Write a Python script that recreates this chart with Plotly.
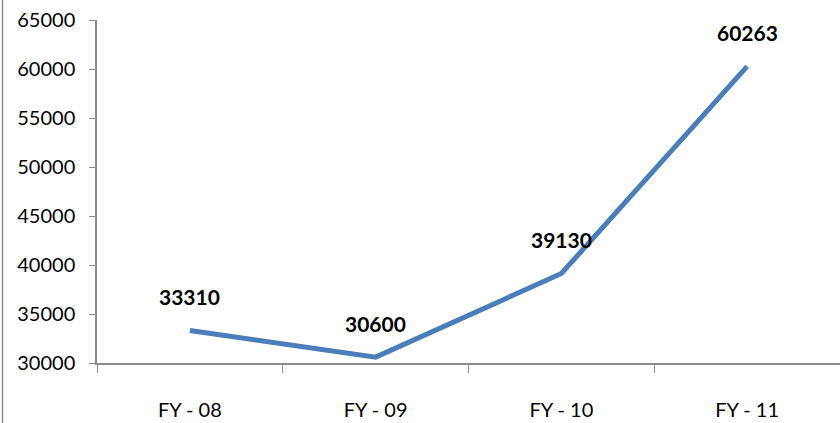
import plotly.graph_objects as go

# Annual figures by fiscal year
years = ["FY - 08", "FY - 09", "FY - 10", "FY - 11"]
values = [33310, 30600, 39130, 60263]
y_ticks = [30000, 35000, 40000, 45000, 50000, 55000, 60000, 65000]
y_tick_labels = [str(t) for t in y_ticks]

LINE_COLOR = "#4A7EBB"
AXIS_COLOR = "#8C8C8C"
FONT = "Lato, Carlito, 'Liberation Sans', sans-serif"

fig = go.Figure()
fig.add_trace(go.Scatter(
    x=years, y=values, mode="lines",
    line=dict(color=LINE_COLOR, width=5),
    hoverinfo="skip", showlegend=False,
))

# Bold value labels above each point
for cat, v in zip(years, values):
    fig.add_annotation(
        x=cat, y=v, text=f"<b>{v}</b>", showarrow=False,
        yshift=34, font=dict(family=FONT, size=21, color="#000000"),
    )

W, H = 840, 423
ml, mr, mt, mb = 97, 0, 20, 60
pw, ph = W - ml - mr, H - mt - mb

# thin frame line along the left edge
fig.add_shape(
    type="line", xref="paper", yref="paper",
    x0=-(ml - 2.5) / pw, x1=-(ml - 2.5) / pw,
    y0=-mb / ph, y1=1 + mt / ph,
    line=dict(color=AXIS_COLOR, width=1.5),
)

fig.update_layout(
    width=W, height=H,
    margin=dict(l=ml, r=mr, t=mt, b=mb),
    paper_bgcolor="white", plot_bgcolor="white",
    font=dict(family=FONT, size=20, color="#000000"),
    xaxis=dict(
        type="category", tickson="boundaries",
        showline=True, linecolor=AXIS_COLOR, linewidth=1.5,
        ticks="outside", ticklen=8, tickcolor=AXIS_COLOR, tickwidth=1,
        showgrid=False, zeroline=False,
        ticklabelstandoff=28, range=[-0.5, 3.5],
    ),
    yaxis=dict(
        range=[30000, 65000], tickvals=y_ticks, ticktext=y_tick_labels,
        showline=True, linecolor=AXIS_COLOR, linewidth=1.5,
        ticks="outside", ticklen=6, tickcolor=AXIS_COLOR, tickwidth=1,
        showgrid=False, zeroline=False,
        ticklabelstandoff=10,
    ),
)

fig.write_html("out.html")
